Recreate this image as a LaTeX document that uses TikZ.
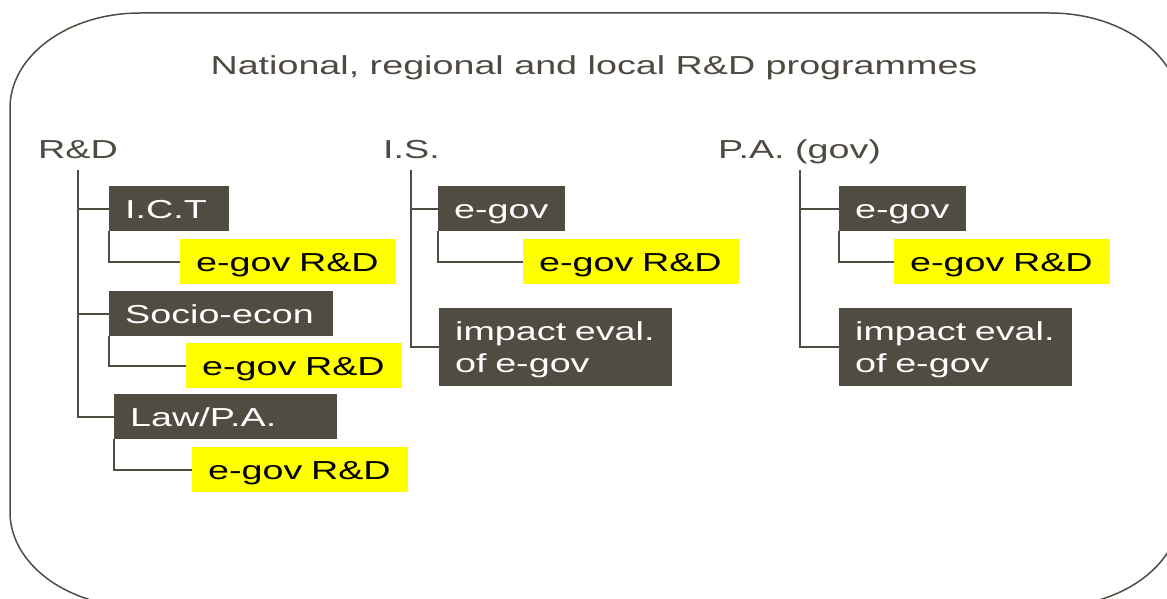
\documentclass[tikz,border=0pt]{standalone}
\usepackage{fontspec}
\setmainfont{Liberation Sans}[FakeStretch=1.45]
\definecolor{boxgray}{RGB}{81,76,66}
\definecolor{textgray}{RGB}{79,74,65}
\definecolor{egov}{RGB}{255,255,0}
\exhyphenpenalty=10000
\hbadness=10000
\hfuzz=20pt
\tikzset{
    head/.style={anchor=base west,inner sep=0pt,text depth=12pt,text=textgray},
    catbox/.style={anchor=north west,fill=boxgray,text=white,minimum height=45pt,
        inner xsep=16pt,inner ysep=0pt,text height=19pt,text depth=0pt,align=left,text width=#1},
    rdbox/.style={catbox=#1,fill=egov,text=black},
    twoline/.style={text depth=32pt,minimum height=78pt},
    tree/.style={draw=boxgray,line width=2pt}
}
\begin{document}
\begin{tikzpicture}[x=1pt,y=-1pt,font=\fontsize{26}{32}\selectfont]
    \useasboundingbox (0,0) rectangle (1167,599);
    \clip (0,0) rectangle (1167,599);
    % outer frame
    \draw[boxgray,line width=1.5pt] (10,108) -- (10,512)
        .. controls (10,564.5) and (68.2,607) .. (140,607) -- (1050,607)
        .. controls (1121.8,607) and (1180,564.5) .. (1180,512) -- (1180,108)
        .. controls (1180,55.5) and (1121.8,13) .. (1050,13) -- (140,13)
        .. controls (68.2,13) and (10,55.5) .. cycle;
    \node[anchor=base,inner sep=0pt,text=textgray] (title) at (594,75) {National, regional and local R\&D programmes};
    \node[head] (rd) at (38,158) {R\&D};
    \node[head] (is) at (383,158) {I.S.};
    \node[head] (pa) at (718,158) {P.A. (gov)};
    % R&D column
    \node[catbox=88pt] (ict) at (109,186) {I.C.T};
    \node[rdbox=184pt] (rdict) at (180,239) {e-gov~R\&D};
    \node[catbox=192pt] (socio) at (109,291) {Socio-econ};
    \node[rdbox=184pt] (rdsocio) at (186,343) {e-gov~R\&D};
    \node[catbox=191pt] (law) at (114,394) {Law/P.A.};
    \node[rdbox=184pt] (rdlaw) at (192,447) {e-gov~R\&D};
    % I.S. column
    \node[catbox=95pt] (isgov) at (438,186) {e-gov};
    \node[rdbox=184pt] (isrd) at (523,239) {e-gov~R\&D};
    \node[catbox=201pt,twoline] (isimp) at (439,308) {impact~eval.\\of e-gov};
    % P.A. column
    \node[catbox=95pt] (pagov) at (839,186) {e-gov};
    \node[rdbox=184pt] (pard) at (894,239) {e-gov~R\&D};
    \node[catbox=201pt,twoline] (paimp) at (839,308) {impact~eval.\\of e-gov};
    % tree lines
    \foreach \cat/\sub in {rd/ict,rd/socio,rd/law,is/isgov,is/isimp,pa/pagov,pa/paimp}
        \draw[tree] (\cat.south) |- (\sub.west);
    \foreach \cat/\sub in {ict/rdict,socio/rdsocio,law/rdlaw,isgov/isrd,pagov/pard}
        \draw[tree] (\cat.south west) |- (\sub.west);
\end{tikzpicture}
\end{document}
